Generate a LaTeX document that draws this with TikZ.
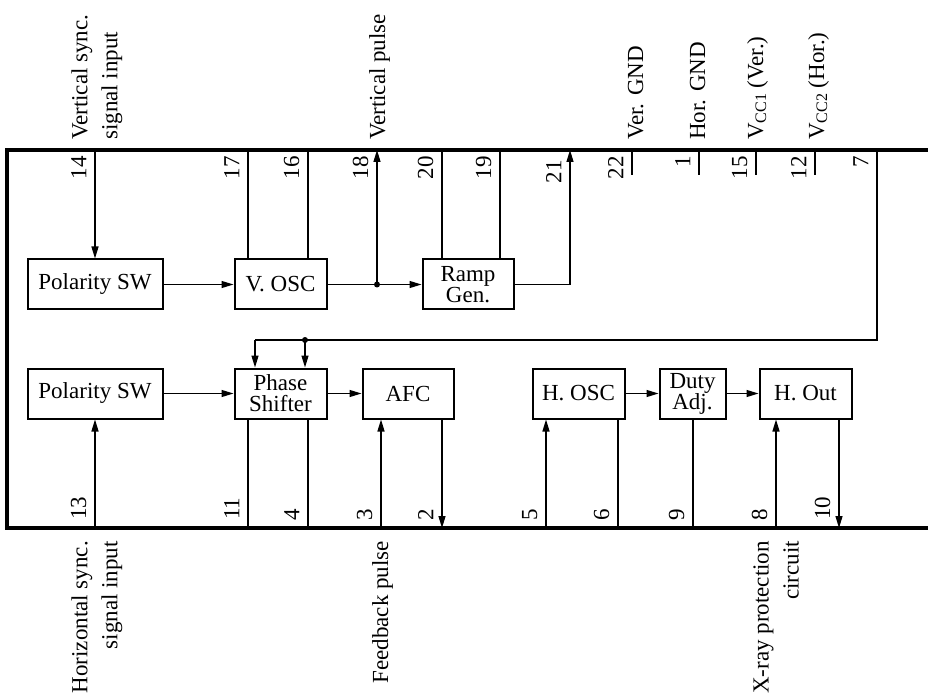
\documentclass[tikz,border=0pt]{standalone}
\usepackage{fontspec}
\setmainfont{Liberation Serif}
\usetikzlibrary{arrows.meta}
\newcommand\subtxt[1]{\raisebox{-3pt}{\fontsize{16}{16}\selectfont #1}}
\begin{document}
\begin{tikzpicture}[x=1pt,y=-1pt,
  every node/.style={font=\fontsize{23}{21}\selectfont, inner sep=0pt},
  blk/.style={draw, line width=2pt, minimum height=50pt, align=center},
  wire/.style={line width=1.3pt},
  arr/.style={wire, -{Triangle[length=12pt,width=7pt]}},
  pinlbl/.style={rotate=90},
  ext/.style={rotate=90, font=\fontsize{23}{30}\selectfont},
  dot/.style={circle, fill, minimum size=6pt, inner sep=0pt}
]
\useasboundingbox (0,0) rectangle (928,700);

% frame
\draw[line width=4pt] (945,150) -- (7,150) -- (7,528) -- (945,528);

% top pin coordinates
\coordinate (t14) at (95,150);
\coordinate (t17) at (248,150);
\coordinate (t16) at (308,150);
\coordinate (t18) at (377,150);
\coordinate (t20) at (442,150);
\coordinate (t19) at (500,150);
\coordinate (t21) at (570,150);
\coordinate (t22) at (632,150);
\coordinate (t1) at (699,150);
\coordinate (t15) at (756,150);
\coordinate (t12) at (815,150);
\coordinate (t7) at (877,150);
% bottom pin coordinates
\coordinate (b13) at (95,528);
\coordinate (b11) at (248,528);
\coordinate (b4) at (308,528);
\coordinate (b3) at (381,528);
\coordinate (b2) at (442,528);
\coordinate (b5) at (546,528);
\coordinate (b6) at (618,528);
\coordinate (b9) at (693,528);
\coordinate (b8) at (776,528);
\coordinate (b10) at (839,528);

% blocks
\node[blk, minimum width=135pt] (polv) at (95,284.5) {Polarity SW};
\node[blk, minimum width=92pt] (vosc) at (280.5,284.5) {V. OSC};
\node[blk, minimum width=91pt] (ramp) at (468,284.5) {Ramp\\Gen.};
\node[blk, minimum width=135pt] (polh) at (95,393.5) {Polarity SW};
\node[blk, minimum width=92pt] (phase) at (280.5,393.5) {Phase\\Shifter};
\node[blk, minimum width=91pt] (afc) at (408,393.5) {AFC};
\node[blk, minimum width=92pt] (hosc) at (578.5,393.5) {H. OSC};
\node[blk, minimum width=66pt] (duty) at (692.5,393.5) {Duty\\Adj.};
\node[blk, minimum width=92pt] (hout) at (805.5,393.5) {H. Out};

% top row connections
\draw[arr] (t14) -- (polv.north);
\draw[arr] (polv.east) -- (vosc.west);
\draw[wire] (t17) -- (t17 |- vosc.north);
\draw[wire] (t16) -- (t16 |- vosc.north);
\draw[arr] (vosc.east) -- (ramp.west);
\node[dot] (d18) at (t18 |- vosc.east) {};
\draw[arr] (d18.center) -- (t18);
\draw[wire] (t20) -- (t20 |- ramp.north);
\draw[wire] (t19) -- (t19 |- ramp.north);
\draw[arr] (ramp.east) -| (t21);
\draw[wire] (t22) -- +(0,25);
\draw[wire] (t1) -- +(0,25);
\draw[wire] (t15) -- +(0,25);
\draw[wire] (t12) -- +(0,25);

% pin 7 feed to phase shifter
\coordinate (c7) at (877,340);
\coordinate (c7b) at (255,340);
\draw[wire] (t7) -- (c7) -- (c7b);
\draw[arr] (c7b) -- (c7b |- phase.north);
\node[dot] (d7) at (305,340) {};
\draw[arr] (d7.center) -- (d7 |- phase.north);

% bottom row connections
\draw[arr] (polh.east) -- (phase.west);
\draw[arr] (phase.east) -- (afc.west);
\draw[arr] (hosc.east) -- (duty.west);
\draw[arr] (duty.east) -- (hout.west);
\draw[arr] (b13) -- (polh.south);
\draw[wire] (b11) -- (b11 |- phase.south);
\draw[wire] (b4) -- (b4 |- phase.south);
\draw[arr] (b3) -- (b3 |- afc.south);
\draw[arr] (b2 |- afc.south) -- (b2);
\draw[arr] (b5) -- (b5 |- hosc.south);
\draw[wire] (b6) -- (b6 |- hosc.south);
\draw[wire] (b9) -- (b9 |- duty.south);
\draw[arr] (b8) -- (b8 |- hout.south);
\draw[arr] (b10 |- hout.south) -- (b10);

% top pin numbers
\node[pinlbl, anchor=south east] (n14) at (86.5,156) {14};
\node[pinlbl, anchor=south east] (n17) at (239.5,156) {17};
\node[pinlbl, anchor=south east] (n16) at (299.5,156) {16};
\node[pinlbl, anchor=south east] (n18) at (368.5,156) {18};
\node[pinlbl, anchor=south east] (n20) at (433.5,156) {20};
\node[pinlbl, anchor=south east] (n19) at (491.5,156) {19};
\node[pinlbl, anchor=south east] (n21) at (561.5,160) {21};
\node[pinlbl, anchor=south east] (n22) at (623.5,156) {22};
\node[pinlbl, anchor=south east] (n1) at (690.5,156) {1};
\node[pinlbl, anchor=south east] (n15) at (747.5,156) {15};
\node[pinlbl, anchor=south east] (n12) at (806.5,156) {12};
\node[pinlbl, anchor=south east] (n7) at (868.5,156) {7};
% bottom pin numbers
\node[pinlbl, anchor=south west] (n13) at (86.5,520) {13};
\node[pinlbl, anchor=south west] (n11) at (239.5,520) {11};
\node[pinlbl, anchor=south west] (n4) at (299.5,521) {4};
\node[pinlbl, anchor=south west] (n3) at (372.5,521) {3};
\node[pinlbl, anchor=south west] (n2) at (433.5,521) {2};
\node[pinlbl, anchor=south west] (n5) at (537.5,521) {5};
\node[pinlbl, anchor=south west] (n6) at (609.5,521) {6};
\node[pinlbl, anchor=south west] (n9) at (684.5,521) {9};
\node[pinlbl, anchor=south west] (n8) at (767.5,521) {8};
\node[pinlbl, anchor=south west] (n10) at (830.5,520) {10};

% external labels (top)
\node[ext, align=left, anchor=west] (lvs) at (97,140) {Vertical sync.\\signal input};
\node[ext, anchor=base west] (lvp) at (385,140) {Vertical pulse};
\node[ext, anchor=base west] (lvg) at (643,140) {Ver. GND};
\node[ext, anchor=base west] (lhg) at (705,140) {Hor. GND};
\node[ext, anchor=base west] (lv1) at (763,140) {V\subtxt{CC1} (Ver.)};
\node[ext, anchor=base west] (lv2) at (824,140) {V\subtxt{CC2} (Hor.)};
% external labels (bottom)
\node[ext, align=right, anchor=east] (lhs) at (97,541) {Horizontal sync.\\signal input};
\node[ext, anchor=base east] (lfb) at (388,541) {Feedback pulse};
\node[ext, align=right, anchor=east] (lxr) at (776,541) {X-ray protection\\circuit};
\end{tikzpicture}
\end{document}
